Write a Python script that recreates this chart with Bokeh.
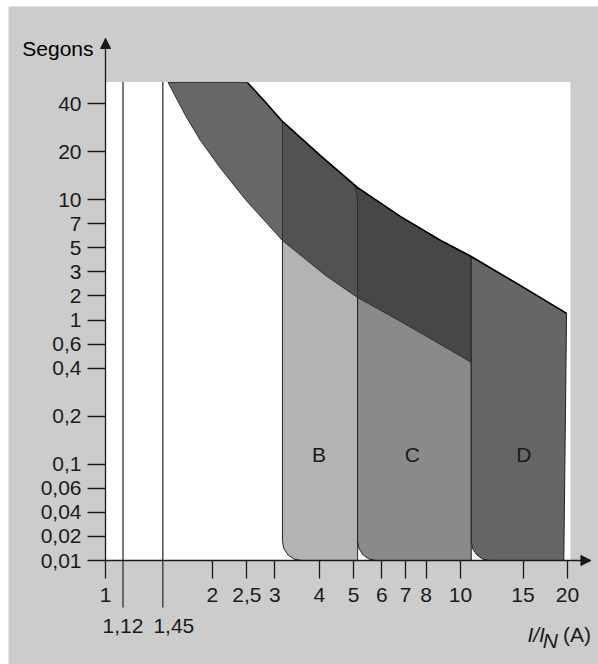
import numpy as np
from bokeh.plotting import figure
from bokeh.models import Range1d, FixedTicker, Label, Arrow, NormalHead, ColumnDataSource
from bokeh.core.properties import value
from bokeh.embed import file_html
from bokeh.resources import INLINE

# ---------------- data ----------------
# y axis: seconds, drawn on the chart's own non-uniform scale (one step per tick slot)
y_ticks = [0.01, 0.02, 0.04, 0.06, 0.1, 0.2, 0.4, 0.6, 1, 2, 3, 5, 7, 10, 20, 40]
y_tick_labels = ["0,01", "0,02", "0,04", "0,06", "0,1", "0,2", "0,4", "0,6",
                 "1", "2", "3", "5", "7", "10", "20", "40"]
y_tick_slots = [0, 1, 2, 3, 4, 6, 8, 9, 10, 11, 12, 13, 14, 15, 17, 19]

# x axis: I/IN, logarithmic
x_ticks = [1, 2, 2.5, 3, 4, 5, 6, 7, 8, 10, 15, 20]
x_tick_labels = ["1", "2", "2,5", "3", "4", "5", "6", "7", "8", "10", "15", "20"]
x_lines = [1.12, 1.45]
x_line_labels = ["1,12", "1,45"]

# thermal band (upper = max trip time, lower = min trip time)
upper_x = [2.51, 2.81, 3.15, 4.03, 5.13, 6.78, 8.79, 10.72]
upper_s = [54.2, 41.2, 30.9, 18.9, 11.9, 7.79, 5.54, 4.16]
lower_x = [1.50, 1.68, 1.85, 2.11, 2.48, 3.15, 4.17, 5.13, 6.78, 9.37, 10.72]
lower_s = [54.2, 33.6, 23.5, 15.7, 10.0, 5.54, 2.82, 1.91, 0.97, 0.54, 0.44]

# upper curve continued over curve D
d_top_x = [10.72, 14.76, 19.89]
d_top_s = [4.10, 2.38, 1.21]

# magnetic zones B, C, D (outline points, incl. rounded corners)
b_x = [3.15, 4.03, 5.13, 5.13, 3.57, 3.40, 3.27, 3.18, 3.15]
b_s = [30.9, 18.9, 11.9, 0.01, 0.01, 0.0104, 0.0117, 0.0140, 0.0173]
c_x = [4.87, 5.13, 6.78, 8.79, 10.72, 10.72, 5.80, 5.53, 5.32, 5.18, 5.13, 5.13, 5.11, 5.03]
c_s = [13.0, 11.9, 7.79, 5.54, 4.16, 0.01, 0.01, 0.0104, 0.0117, 0.0140, 0.0173, 9.18, 10.8, 12.1]
d_x = [10.72, 14.76, 19.89, 19.54, 12.12, 11.56, 11.12, 10.82, 10.72]
d_s = [4.10, 2.38, 1.21, 0.01, 0.01, 0.0104, 0.0117, 0.0140, 0.0173]

zone_names = ["B", "C", "D"]
zone_label_x = [3.99, 7.31, 15.08]
zone_label_s = [0.115, 0.115, 0.115]

T_TOP = 54.6      # top of the drawn area (s)
X_WHITE = 20.4    # right end of the drawn area (I/IN)

# ---------------- scale helpers ----------------
_lt = np.log10(y_ticks)
_slope = (y_tick_slots[-1] - y_tick_slots[-2]) / (_lt[-1] - _lt[-2])


def ys(v):
    lv = np.log10(np.asarray(v, dtype=float))
    pos = np.interp(lv, _lt, y_tick_slots)
    return np.where(lv > _lt[-1], y_tick_slots[-1] + (lv - _lt[-1]) * _slope, pos)


GREY = "#cccccc"
INK = "#1a1a1a"
FONT = "Liberation Sans"
FS = "21px"

# whole canvas is the frame; axes are placed with fixed_location
X_LEFT, X_RIGHT = 0.5059, 24.47        # canvas edges in I/IN
Y_BOTTOM, Y_TOP = -4.324, 23.285       # canvas edges in scale slots
X_PANEL_LEFT, Y_PANEL_TOP = 0.533, 23.035
X_ARROW, Y_ARROW = 23.3, 21.705
LINE_FOOT = -1.954                      # lower end of the 1,12 / 1,45 lines

p = figure(width=598, height=664, x_axis_type="log",
           x_range=Range1d(X_LEFT, X_RIGHT), y_range=Range1d(Y_BOTTOM, Y_TOP),
           output_backend="svg", toolbar_location=None,
           min_border_left=0, min_border_right=0, min_border_top=0, min_border_bottom=0)
p.background_fill_color = "white"
p.border_fill_color = "white"
p.outline_line_color = None
p.grid.visible = False

# grey panel
p.quad(left=[X_PANEL_LEFT], right=[X_RIGHT], bottom=[Y_BOTTOM], top=[Y_PANEL_TOP],
       fill_color=GREY, line_color=None)

# drawing area
p.quad(left=[1], right=[X_WHITE], bottom=ys([0.01]), top=ys([T_TOP]),
       fill_color="white", line_color=None)

# vertical reference lines 1,12 and 1,45
p.segment(x0=x_lines, y0=[LINE_FOOT, LINE_FOOT], x1=x_lines, y1=ys([T_TOP, T_TOP]),
          line_color="#333333", line_width=1.3)

# zones
p.patch(b_x, ys(b_s), fill_color="#b3b3b3", line_color="#222222", line_width=1)
p.patch(c_x, ys(c_s), fill_color="#8a8a8a", line_color="#222222", line_width=1)
p.patch(d_x, ys(d_s), fill_color="#666666", line_color="#222222", line_width=1)

# thermal band (semi-transparent)
band_x = list(upper_x) + list(lower_x[::-1])
band_s = list(upper_s) + list(lower_s[::-1])
p.patch(band_x, ys(band_s), fill_color="#2e2e2e", fill_alpha=0.73,
        line_color="#333333", line_width=1)
p.line(list(upper_x) + list(d_top_x[1:]), ys(list(upper_s) + list(d_top_s[1:])),
       line_color="#000000", line_width=1.6)

# zone letters
src = ColumnDataSource(dict(x=zone_label_x, y=ys(zone_label_s), t=zone_names))
p.text(x="x", y="y", text="t", source=src, text_font=value(FONT),
       text_font_size=value(FS), text_color=INK, text_align="center",
       text_baseline="middle")

# axes
ya = p.yaxis[0]
ya.fixed_location = 1
ya.bounds = (0, Y_ARROW)
ya.ticker = FixedTicker(ticks=y_tick_slots)
ya.major_label_overrides = {float(s): l for s, l in zip(y_tick_slots, y_tick_labels)}
ya.major_tick_out = 18
ya.major_tick_in = 0
ya.minor_tick_out = 0
ya.minor_tick_in = 0
ya.major_label_standoff = 6
ya.axis_line_color = INK
ya.axis_line_width = 1.3
ya.major_tick_line_color = INK
ya.major_tick_line_width = 1.3
ya.major_label_text_font = FONT
ya.major_label_text_font_size = FS
ya.major_label_text_color = INK

xa = p.xaxis[0]
xa.fixed_location = 0
xa.bounds = (1, X_ARROW)
xa.ticker = FixedTicker(ticks=x_ticks)
xa.major_label_overrides = {float(t): l for t, l in zip(x_ticks, x_tick_labels)}
xa.major_tick_out = 18
xa.major_tick_in = 0
xa.minor_tick_out = 0
xa.minor_tick_in = 0
xa.major_label_standoff = 9
xa.axis_line_color = INK
xa.axis_line_width = 1.3
xa.major_tick_line_color = INK
xa.major_tick_line_width = 1.3
xa.major_label_text_font = FONT
xa.major_label_text_font_size = FS
xa.major_label_text_color = INK

# axis arrow heads
p.add_layout(Arrow(end=NormalHead(size=10, fill_color=INK, line_color=INK),
                   x_start=1, y_start=Y_ARROW - 1, x_end=1, y_end=Y_ARROW, line_alpha=0))
p.add_layout(Arrow(end=NormalHead(size=10, fill_color=INK, line_color=INK),
                   x_start=20.5, y_start=0, x_end=X_ARROW, y_end=0, line_alpha=0))

# texts
p.add_layout(Label(x=1, y=21.29, x_offset=-12, text="Segons", text_align="right",
                   text_baseline="middle", text_font=FONT, text_font_size=FS, text_color="#000000"))
p.add_layout(Label(x=x_lines[0], y=-2.74, text=x_line_labels[0], text_align="center",
                   text_baseline="middle", text_font=FONT, text_font_size=FS, text_color=INK))
p.add_layout(Label(x=x_lines[1], y=-2.74, x_offset=11, text=x_line_labels[1], text_align="center",
                   text_baseline="middle", text_font=FONT, text_font_size=FS, text_color=INK))
p.add_layout(Label(x=X_ARROW, y=-3.08, text="(A)", text_align="right",
                   text_baseline="alphabetic", text_font=FONT, text_font_size=FS, text_color=INK))
p.add_layout(Label(x=X_ARROW, y=-3.33, x_offset=-33, text="N", text_align="right",
                   text_baseline="alphabetic", text_font=FONT, text_font_size=FS,
                   text_font_style="italic", text_color=INK))
p.add_layout(Label(x=X_ARROW, y=-3.08, x_offset=-46, text="I/I", text_align="right",
                   text_baseline="alphabetic", text_font=FONT, text_font_size=FS,
                   text_font_style="italic", text_color=INK))

open("out.html", "w").write(file_html(p, INLINE))
